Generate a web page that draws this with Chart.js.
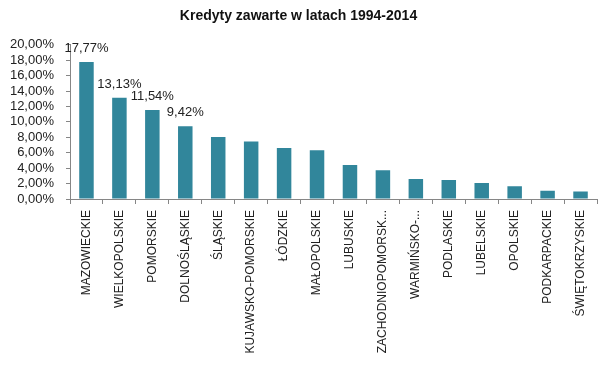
<!DOCTYPE html>
<html>
<head>
<meta charset="utf-8">
<title>Kredyty zawarte w latach 1994-2014</title>
<script src="https://cdn.jsdelivr.net/npm/chart.js"></script>
<style>
html, body { margin: 0; padding: 0; background: #fff; }
.chart-container { position: relative; width: 606px; height: 366px; }
</style>
</head>
<body>
<div class="chart-container">
<canvas id="kredytyChart"></canvas>
</div>
<script>
const wojewodztwa = ['MAZOWIECKIE', 'WIELKOPOLSKIE', 'POMORSKIE', 'DOLNOŚLĄSKIE', 'ŚLĄSKIE',
  'KUJAWSKO-POMORSKIE', 'ŁÓDZKIE', 'MAŁOPOLSKIE', 'LUBUSKIE', 'ZACHODNIOPOMORSK...',
  'WARMIŃSKO-...', 'PODLASKIE', 'LUBELSKIE', 'OPOLSKIE', 'PODKARPACKIE', 'ŚWIĘTOKRZYSKIE'];
const udzial = [17.77, 13.13, 11.54, 9.42, 8.05, 7.45, 6.62, 6.32, 4.42, 3.73,
  2.60, 2.47, 2.07, 1.65, 1.08, 0.98];
const pokazEtykiete = [true, true, true, true, false, false, false, false, false, false,
  false, false, false, false, false, false];

const fmt = v => v.toFixed(2).replace('.', ',') + '%';

// etykiety nad słupkami (tylko pierwsze cztery)
const etykiety = {
  id: 'etykiety',
  afterDatasetsDraw(chart) {
    const ctx = chart.ctx;
    const meta = chart.getDatasetMeta(0);
    ctx.save();
    ctx.font = '13px "Liberation Sans", Arial, sans-serif';
    ctx.fillStyle = '#222';
    ctx.textAlign = 'center';
    ctx.textBaseline = 'alphabetic';
    meta.data.forEach((bar, i) => {
      if (!pokazEtykiete[i]) return;
      ctx.fillText(fmt(udzial[i]), bar.x, bar.y - 10);
    });
    ctx.restore();
  }
};

const ctx = document.getElementById('kredytyChart').getContext('2d');
new Chart(ctx, {
  type: 'bar',
  data: {
    labels: wojewodztwa,
    datasets: [{
      data: udzial,
      backgroundColor: '#31869b',
      borderWidth: 0,
      categoryPercentage: 1,
      barPercentage: 0.44
    }]
  },
  options: {
    responsive: true,
    maintainAspectRatio: false,
    animation: false,
    layout: { padding: { top: 0, right: 9, bottom: 0, left: 0 } },
    scales: {
      x: {
        afterFit(scale) { scale.height = 167; },
        border: { color: '#868686', width: 1 },
        grid: { display: true, drawOnChartArea: false, color: '#868686', tickLength: 5 },
        ticks: {
          autoSkip: false,
          maxRotation: 90,
          minRotation: 90,
          padding: 6,
          color: '#222',
          font: { family: '"Liberation Sans", Arial, sans-serif', size: 12 }
        }
      },
      y: {
        min: 0,
        max: 20,
        afterFit(scale) { scale.width = 70; },
        border: { color: '#868686', width: 1 },
        grid: { display: true, drawOnChartArea: false, color: '#868686', tickLength: 4 },
        ticks: {
          stepSize: 2,
          autoSkip: false,
          padding: 12,
          color: '#222',
          font: { family: '"Liberation Sans", Arial, sans-serif', size: 13, lineHeight: 1 },
          callback: v => fmt(v)
        }
      }
    },
    plugins: {
      legend: { display: false },
      tooltip: { enabled: false },
      title: {
        display: true,
        text: 'Kredyty zawarte w latach 1994-2014',
        color: '#111',
        font: { family: '"Liberation Sans", Arial, sans-serif', size: 14, weight: 'bold' },
        padding: { top: 8, bottom: 20 }
      }
    }
  },
  plugins: [etykiety]
});
</script>
</body>
</html>
